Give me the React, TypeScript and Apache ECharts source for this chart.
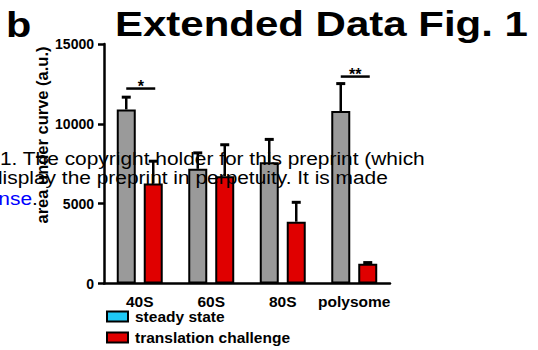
import React, { useEffect, useRef } from "react";
import * as echarts from "echarts";

const categories = ["40S", "60S", "80S", "polysome"];
const steadyMeans = [10900, 7180, 7600, 10800];
const steadyErr = [770, 1000, 1425, 1720];
const challengeMeans = [6260, 6720, 3870, 1240];
const challengeErr = [1400, 1970, 1215, 70];
const sigCategory = [0, 3];
const sigLevel = [12210, 12960];
const sigLabel = ["*", "**"];
const yTicks = { min: 0, max: 15000, interval: 5000 };
const seriesNames = ["steady state", "translation challenge"];

const FONT = "'Liberation Sans', Arial, Helvetica, sans-serif";
const GRAY = "#9a9a9a";
const RED = "#e00000";
const CYAN = "#1ec8f5";
const BAR_OFFSET = 13.5;

function errorRenderer(offset: number) {
  return (params: any, api: any) => {
    const c = api.value(0);
    const mean = api.value(1);
    const err = api.value(2);
    const p0 = api.coord([c, mean]);
    const p1 = api.coord([c, mean + err]);
    const x = p0[0] + offset;
    return {
      type: "group",
      children: [
        {
          type: "line",
          shape: { x1: x, y1: p0[1], x2: x, y2: p1[1] },
          style: { stroke: "#000", lineWidth: 2.5 },
        },
        {
          type: "line",
          shape: { x1: x - 4.5, y1: p1[1], x2: x + 4.5, y2: p1[1] },
          style: { stroke: "#000", lineWidth: 3 },
        },
      ],
    };
  };
}

function sigRenderer(params: any, api: any) {
  const c = api.value(0);
  const level = api.value(1);
  const p = api.coord([c, level]);
  const x1 = p[0] - BAR_OFFSET;
  const x2 = p[0] + BAR_OFFSET + 2;
  const label = sigLabel[params.dataIndex];
  return {
    type: "group",
    children: [
      {
        type: "line",
        shape: { x1, y1: p[1], x2, y2: p[1] },
        style: { stroke: "#000", lineWidth: 2.5 },
      },
      {
        type: "text",
        x: (x1 + x2) / 2,
        y: p[1] - 2,
        style: {
          text: label,
          fill: "#000",
          font: `bold 16px ${FONT}`,
          align: "center",
          verticalAlign: "middle",
        },
      },
    ],
  };
}

export default function App() {
  const ref = useRef<HTMLDivElement>(null);
  useEffect(() => {
    if (!ref.current) return;
    const chart = echarts.init(ref.current, null, { renderer: "svg" });
    const steadyData = steadyMeans.map((v) => v);
    const challengeData = challengeMeans.map((v) => v);
    const steadyErrData = steadyMeans.map((v, i) => [i, v, steadyErr[i]]);
    const challengeErrData = challengeMeans.map((v, i) => [i, v, challengeErr[i]]);
    const sigData = sigCategory.map((c, i) => [c, sigLevel[i]]);

    chart.setOption({
      animation: false,
      backgroundColor: "#fff",
      grid: { left: 104, right: 148, top: 44, bottom: 66.5, containLabel: false },
      legend: {
        orient: "vertical",
        left: 106,
        top: 308.5,
        padding: 0,
        itemWidth: 21,
        itemHeight: 10,
        itemGap: 5,
        icon: "rect",
        data: [
          { name: seriesNames[0], itemStyle: { color: CYAN, borderColor: "#000", borderWidth: 2 } },
          { name: seriesNames[1], itemStyle: { color: RED, borderColor: "#000", borderWidth: 2 } },
        ],
        textStyle: {
          fontFamily: FONT,
          fontWeight: "bold",
          fontSize: 15.5,
          lineHeight: 16,
          color: "#000",
          padding: [0, 0, 0, 2],
        },
      },
      xAxis: {
        type: "category",
        data: categories,
        axisLine: { lineStyle: { color: "#000", width: 2.5 } },
        axisTick: { alignWithLabel: true, length: 6, lineStyle: { color: "#000", width: 2.5 } },
        axisLabel: {
          interval: 0,
          color: "#000",
          fontFamily: FONT,
          fontWeight: "bold",
          fontSize: 15.5,
          lineHeight: 13,
          margin: 11,
        },
      },
      yAxis: {
        type: "value",
        min: yTicks.min,
        max: yTicks.max,
        interval: yTicks.interval,
        axisLine: { show: true, lineStyle: { color: "#000", width: 2.5 } },
        axisTick: { show: true, length: 6, lineStyle: { color: "#000", width: 2.5 } },
        splitLine: { show: false },
        axisLabel: {
          color: "#000",
          fontFamily: FONT,
          fontWeight: "bold",
          fontSize: 14,
          margin: 10,
          formatter: (v: number) => String(v),
        },
      },
      series: [
        {
          name: seriesNames[0],
          type: "bar",
          data: steadyData,
          barWidth: 19,
          barGap: "42%",
          itemStyle: { color: GRAY, borderColor: "#000", borderWidth: 2 },
          z: 2,
        },
        {
          name: seriesNames[1],
          type: "bar",
          data: challengeData,
          barWidth: 19,
          itemStyle: { color: RED, borderColor: "#000", borderWidth: 2 },
          z: 2,
        },
        {
          name: "steady err",
          type: "custom",
          data: steadyErrData,
          renderItem: errorRenderer(-BAR_OFFSET),
          clip: false,
          z: 3,
        },
        {
          name: "challenge err",
          type: "custom",
          data: challengeErrData,
          renderItem: errorRenderer(BAR_OFFSET),
          clip: false,
          z: 3,
        },
        {
          name: "significance",
          type: "custom",
          data: sigData,
          renderItem: sigRenderer,
          clip: false,
          z: 3,
        },
      ],
      graphic: [
        {
          type: "text",
          x: 6,
          y: 24,
          scaleX: 1.15,
          originX: 0,
          style: { text: "b", font: `bold 36px ${FONT}`, fill: "#000", verticalAlign: "middle" },
        },
        {
          type: "text",
          x: 115,
          y: 24,
          scaleX: 1.2,
          originX: 0,
          style: {
            text: "Extended Data Fig. 1",
            font: `bold 35px ${FONT}`,
            fill: "#000",
            verticalAlign: "middle",
          },
        },
        {
          type: "text",
          x: 42,
          y: 135,
          rotation: Math.PI / 2,
          style: {
            text: "area under curve (a.u.)",
            font: `bold 16.5px ${FONT}`,
            fill: "#000",
            align: "center",
            verticalAlign: "middle",
          },
        },
        {
          type: "text",
          x: 0,
          y: 158.4,
          scaleX: 1.1,
          originX: 0,
          z: 100,
          style: {
            text: "1. The copyright holder for this preprint (which",
            font: `19px ${FONT}`,
            fill: "#000",
            verticalAlign: "middle",
          },
        },
        {
          type: "text",
          x: -9,
          y: 177,
          scaleX: 1.1,
          originX: 0,
          z: 100,
          style: {
            text: "display the preprint in perpetuity. It is made",
            font: `19px ${FONT}`,
            fill: "#000",
            verticalAlign: "middle",
          },
        },
        {
          type: "text",
          x: -33,
          y: 198.4,
          scaleX: 1.1,
          originX: 0,
          z: 100,
          style: {
            text: "{a|license}{b|.}",
            font: `19px ${FONT}`,
            fill: "#000",
            verticalAlign: "middle",
            rich: {
              a: { fill: "#0000ff", font: `19px ${FONT}` },
              b: { fill: "#000", font: `19px ${FONT}` },
            },
          },
        },
      ],
    });
    return () => chart.dispose();
  }, []);
  return (
    <div
      ref={ref}
      style={{ position: "fixed", left: 0, top: 0, width: 538, height: 350 }}
    />
  );
}
